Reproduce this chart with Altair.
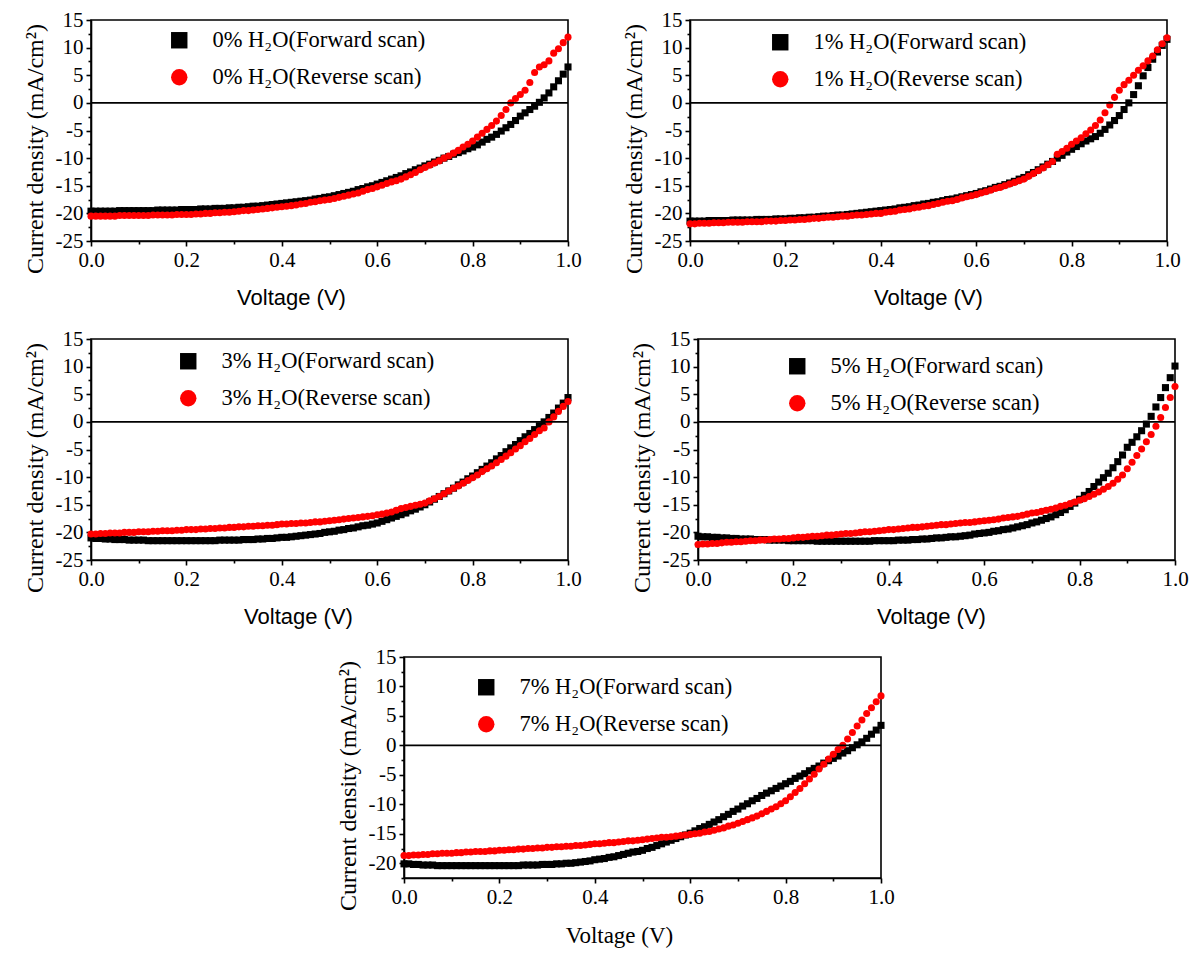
import altair as alt
import pandas as pd

V = [0.00, 0.01, 0.02, 0.03, 0.04, 0.05, 0.06, 0.07, 0.08, 0.09,
     0.10, 0.11, 0.12, 0.13, 0.14, 0.15, 0.16, 0.17, 0.18, 0.19,
     0.20, 0.21, 0.22, 0.23, 0.24, 0.25, 0.26, 0.27, 0.28, 0.29,
     0.30, 0.31, 0.32, 0.33, 0.34, 0.35, 0.36, 0.37, 0.38, 0.39,
     0.40, 0.41, 0.42, 0.43, 0.44, 0.45, 0.46, 0.47, 0.48, 0.49,
     0.50, 0.51, 0.52, 0.53, 0.54, 0.55, 0.56, 0.57, 0.58, 0.59,
     0.60, 0.61, 0.62, 0.63, 0.64, 0.65, 0.66, 0.67, 0.68, 0.69,
     0.70, 0.71, 0.72, 0.73, 0.74, 0.75, 0.76, 0.77, 0.78, 0.79,
     0.80, 0.81, 0.82, 0.83, 0.84, 0.85, 0.86, 0.87, 0.88, 0.89,
     0.90, 0.91, 0.92, 0.93, 0.94, 0.95, 0.96, 0.97, 0.98, 0.99,
     1.00]

# 0% H2O
F0 = [-19.6, -19.6, -19.6, -19.6, -19.6, -19.6, -19.5, -19.5, -19.5, -19.5,
      -19.5, -19.5, -19.5, -19.5, -19.4, -19.4, -19.4, -19.4, -19.4, -19.3,
      -19.3, -19.3, -19.3, -19.2, -19.2, -19.2, -19.1, -19.1, -19.1, -19.0,
      -19.0, -18.9, -18.9, -18.8, -18.7, -18.7, -18.6, -18.5, -18.4, -18.3,
      -18.2, -18.1, -18.0, -17.9, -17.8, -17.7, -17.6, -17.4, -17.3, -17.1,
      -17.0, -16.8, -16.6, -16.4, -16.2, -16.0, -15.7, -15.5, -15.2, -15.0,
      -14.7, -14.4, -14.1, -13.8, -13.5, -13.2, -12.8, -12.5, -12.1, -11.8,
      -11.4, -11.1, -10.7, -10.4, -10.0, -9.7, -9.3, -9.0, -8.7, -8.3,
      -8.0, -7.6, -7.1, -6.6, -6.2, -5.7, -5.1, -4.5, -3.9, -3.2,
      -2.4, -1.8, -1.2, -0.6, 0.1, 0.9, 1.8, 2.9, 4.0, 5.2,
      6.5]
R0 = [-20.5, -20.5, -20.5, -20.5, -20.5, -20.5, -20.4, -20.4, -20.4, -20.4,
      -20.4, -20.4, -20.4, -20.3, -20.3, -20.3, -20.3, -20.3, -20.2, -20.2,
      -20.2, -20.2, -20.1, -20.1, -20.0, -20.0, -19.9, -19.9, -19.8, -19.8,
      -19.7, -19.6, -19.5, -19.5, -19.4, -19.3, -19.2, -19.1, -19.0, -18.9,
      -18.8, -18.7, -18.6, -18.5, -18.3, -18.2, -18.0, -17.9, -17.7, -17.6,
      -17.5, -17.3, -17.1, -16.9, -16.7, -16.5, -16.3, -16.0, -15.7, -15.5,
      -15.2, -14.9, -14.6, -14.3, -14.1, -13.8, -13.4, -13.0, -12.6, -12.1,
      -11.7, -11.3, -10.9, -10.5, -10.0, -9.6, -9.1, -8.6, -8.0, -7.5,
      -6.9, -6.2, -5.5, -4.8, -4.1, -3.3, -2.3, -1.2, 0.0, 0.8,
      1.5, 2.3, 3.7, 5.5, 6.5, 6.9, 7.6, 9.0, 9.8, 10.9,
      11.9]

# 1% H2O
F1 = [-21.4, -21.4, -21.4, -21.4, -21.3, -21.3, -21.3, -21.3, -21.3, -21.2,
      -21.2, -21.2, -21.2, -21.2, -21.1, -21.1, -21.1, -21.1, -21.0, -21.0,
      -21.0, -20.9, -20.9, -20.8, -20.8, -20.7, -20.7, -20.6, -20.5, -20.5,
      -20.4, -20.3, -20.3, -20.2, -20.1, -20.0, -19.9, -19.8, -19.7, -19.6,
      -19.5, -19.4, -19.3, -19.2, -19.0, -18.9, -18.8, -18.6, -18.5, -18.3,
      -18.2, -18.0, -17.9, -17.7, -17.5, -17.4, -17.2, -17.0, -16.8, -16.6,
      -16.4, -16.1, -15.9, -15.6, -15.3, -15.1, -14.8, -14.5, -14.2, -13.8,
      -13.5, -13.0, -12.6, -12.1, -11.6, -11.1, -10.6, -10.0, -9.5, -8.9,
      -8.4, -7.9, -7.4, -6.9, -6.5, -6.1, -5.5, -4.8, -4.0, -3.2,
      -2.3, -1.2, 0.0, 1.5, 3.1, 4.9, 6.4, 7.9, 9.2, 10.4,
      11.5]
R1 = [-21.9, -21.9, -21.8, -21.8, -21.8, -21.7, -21.7, -21.7, -21.6, -21.6,
      -21.6, -21.6, -21.5, -21.5, -21.5, -21.5, -21.4, -21.4, -21.4, -21.3,
      -21.3, -21.2, -21.2, -21.1, -21.1, -21.0, -20.9, -20.9, -20.8, -20.7,
      -20.7, -20.6, -20.5, -20.5, -20.4, -20.3, -20.3, -20.2, -20.1, -20.0,
      -20.0, -19.8, -19.7, -19.6, -19.4, -19.3, -19.2, -19.0, -18.9, -18.7,
      -18.6, -18.4, -18.2, -18.0, -17.8, -17.7, -17.5, -17.2, -17.0, -16.8,
      -16.6, -16.3, -16.1, -15.8, -15.5, -15.3, -15.0, -14.7, -14.4, -14.1,
      -13.8, -13.3, -12.8, -12.3, -11.8, -11.2, -10.6, -9.3, -8.8, -8.2,
      -7.5, -6.9, -6.3, -5.6, -4.9, -4.1, -3.1, -1.8, -0.4, 1.0,
      2.3, 3.3, 4.1, 5.0, 5.9, 6.7, 7.6, 8.5, 9.6, 10.7,
      11.8]

# 3% H2O
F3 = [-21.0, -21.1, -21.1, -21.2, -21.2, -21.3, -21.3, -21.3, -21.4, -21.4,
      -21.4, -21.4, -21.5, -21.5, -21.5, -21.5, -21.5, -21.5, -21.5, -21.5,
      -21.5, -21.5, -21.5, -21.5, -21.5, -21.5, -21.5, -21.4, -21.4, -21.4,
      -21.4, -21.4, -21.3, -21.3, -21.3, -21.2, -21.2, -21.1, -21.1, -21.0,
      -20.9, -20.9, -20.8, -20.7, -20.6, -20.5, -20.4, -20.3, -20.2, -20.0,
      -19.9, -19.8, -19.6, -19.5, -19.3, -19.2, -19.0, -18.8, -18.7, -18.5,
      -18.3, -18.0, -17.7, -17.4, -17.1, -16.8, -16.5, -16.1, -15.8, -15.4,
      -15.0, -14.5, -14.0, -13.5, -13.0, -12.5, -12.0, -11.4, -10.9, -10.3,
      -9.8, -9.2, -8.6, -8.0, -7.4, -6.7, -6.1, -5.4, -4.7, -4.1,
      -3.4, -2.7, -2.1, -1.4, -0.7, 0.0, 0.8, 1.6, 2.5, 3.4,
      4.4]
R3 = [-20.3, -20.3, -20.2, -20.2, -20.1, -20.1, -20.1, -20.0, -20.0, -20.0,
      -19.9, -19.9, -19.9, -19.8, -19.8, -19.7, -19.7, -19.7, -19.6, -19.6,
      -19.5, -19.5, -19.5, -19.4, -19.4, -19.3, -19.3, -19.2, -19.2, -19.1,
      -19.1, -19.0, -19.0, -18.9, -18.9, -18.8, -18.8, -18.7, -18.7, -18.6,
      -18.5, -18.5, -18.4, -18.4, -18.3, -18.3, -18.2, -18.1, -18.1, -18.0,
      -17.9, -17.8, -17.7, -17.6, -17.5, -17.4, -17.3, -17.2, -17.1, -17.0,
      -16.8, -16.7, -16.5, -16.3, -16.0, -15.7, -15.5, -15.3, -15.1, -14.9,
      -14.7, -14.3, -13.9, -13.5, -13.0, -12.5, -12.0, -11.6, -11.1, -10.6,
      -10.1, -9.6, -9.0, -8.5, -8.0, -7.4, -6.8, -6.2, -5.6, -4.9,
      -4.3, -3.6, -3.0, -2.3, -1.6, -1.1, 0.0, 0.9, 1.9, 2.8,
      3.7]

# 5% H2O
F5 = [-20.7, -20.8, -20.8, -20.9, -20.9, -21.0, -21.0, -21.1, -21.1, -21.2,
      -21.2, -21.2, -21.3, -21.3, -21.3, -21.4, -21.4, -21.4, -21.4, -21.5,
      -21.5, -21.5, -21.5, -21.5, -21.5, -21.6, -21.6, -21.6, -21.6, -21.6,
      -21.6, -21.6, -21.6, -21.6, -21.6, -21.6, -21.6, -21.5, -21.5, -21.5,
      -21.5, -21.5, -21.4, -21.4, -21.4, -21.3, -21.3, -21.2, -21.2, -21.1,
      -21.0, -21.0, -20.9, -20.8, -20.8, -20.7, -20.6, -20.5, -20.3, -20.2,
      -20.1, -20.0, -19.8, -19.7, -19.5, -19.4, -19.2, -19.0, -18.8, -18.6,
      -18.3, -18.1, -17.8, -17.5, -17.2, -16.8, -16.4, -15.9, -15.3, -14.7,
      -14.0, -13.3, -12.6, -11.7, -10.9, -10.1, -9.3, -8.3, -7.2, -6.0,
      -4.6, -3.7, -2.7, -1.6, -0.4, 1.0, 2.7, 4.4, 6.2, 8.0,
      10.1]
R5 = [-22.2, -22.1, -22.1, -22.0, -22.0, -21.9, -21.8, -21.8, -21.7, -21.7,
      -21.6, -21.5, -21.5, -21.4, -21.4, -21.3, -21.2, -21.2, -21.1, -21.1,
      -21.0, -20.9, -20.9, -20.8, -20.7, -20.7, -20.6, -20.5, -20.5, -20.4,
      -20.3, -20.2, -20.2, -20.1, -20.0, -19.9, -19.9, -19.8, -19.7, -19.6,
      -19.5, -19.5, -19.4, -19.3, -19.2, -19.1, -19.1, -19.0, -18.9, -18.8,
      -18.7, -18.6, -18.6, -18.5, -18.4, -18.3, -18.2, -18.2, -18.1, -18.0,
      -17.9, -17.8, -17.7, -17.6, -17.4, -17.3, -17.2, -17.1, -16.9, -16.7,
      -16.5, -16.4, -16.2, -16.0, -15.8, -15.6, -15.3, -15.1, -14.8, -14.5,
      -14.2, -13.9, -13.5, -13.1, -12.7, -12.2, -11.7, -11.1, -10.4, -9.6,
      -8.5, -7.3, -6.1, -4.9, -3.6, -2.3, -0.8, 0.8, 2.6, 4.4,
      6.4]

# 7% H2O
F7 = [-20.1, -20.1, -20.2, -20.2, -20.3, -20.3, -20.3, -20.4, -20.4, -20.4,
      -20.4, -20.4, -20.4, -20.4, -20.4, -20.4, -20.4, -20.4, -20.4, -20.4,
      -20.4, -20.4, -20.4, -20.4, -20.4, -20.3, -20.3, -20.3, -20.3, -20.2,
      -20.2, -20.2, -20.1, -20.1, -20.0, -20.0, -19.9, -19.8, -19.7, -19.6,
      -19.4, -19.3, -19.2, -19.0, -18.9, -18.7, -18.5, -18.3, -18.1, -18.0,
      -17.8, -17.5, -17.3, -17.0, -16.7, -16.4, -16.1, -15.8, -15.5, -15.2,
      -14.9, -14.5, -14.1, -13.8, -13.4, -13.0, -12.6, -12.1, -11.7, -11.2,
      -10.8, -10.3, -9.9, -9.4, -9.0, -8.5, -8.1, -7.7, -7.3, -6.9,
      -6.5, -6.1, -5.6, -5.2, -4.8, -4.3, -3.9, -3.5, -3.0, -2.6,
      -2.2, -1.8, -1.3, -0.9, -0.4, 0.1, 0.6, 1.2, 1.9, 2.6,
      3.4]
R7 = [-18.7, -18.7, -18.6, -18.6, -18.5, -18.5, -18.4, -18.4, -18.3, -18.3,
      -18.3, -18.2, -18.2, -18.1, -18.1, -18.0, -18.0, -18.0, -17.9, -17.9,
      -17.8, -17.8, -17.7, -17.7, -17.6, -17.6, -17.5, -17.5, -17.4, -17.4,
      -17.3, -17.3, -17.2, -17.2, -17.1, -17.1, -17.0, -17.0, -16.9, -16.8,
      -16.7, -16.7, -16.6, -16.5, -16.5, -16.4, -16.3, -16.2, -16.2, -16.1,
      -16.0, -15.9, -15.8, -15.7, -15.6, -15.6, -15.5, -15.4, -15.3, -15.2,
      -15.1, -15.0, -14.9, -14.7, -14.6, -14.4, -14.2, -14.0, -13.7, -13.5,
      -13.2, -12.9, -12.6, -12.3, -12.0, -11.6, -11.2, -10.8, -10.4, -9.9,
      -9.4, -8.7, -8.0, -7.3, -6.5, -5.7, -4.9, -4.0, -3.2, -2.3,
      -1.5, -0.7, 0.0, 1.1, 2.2, 3.3, 4.3, 5.4, 6.4, 7.4,
      8.4]

Y_TICKS_FULL = [-25, -22.5, -20, -17.5, -15, -12.5, -10, -7.5, -5, -2.5, 0,
                2.5, 5, 7.5, 10, 12.5, 15]
Y_TICKS_P5 = [-22.5, -20, -17.5, -15, -12.5, -10, -7.5, -5, -2.5, 0,
              2.5, 5, 7.5, 10, 12.5, 15]
X_TICKS = [0.0, 0.1, 0.2, 0.3, 0.4, 0.5, 0.6, 0.7, 0.8, 0.9, 1.0]

SERIF = "Liberation Serif"
SANS = "Liberation Sans"
PH = 221
PW = 477
AX = dict(labelFont=SERIF, labelFontSize=21, labelColor="black",
          labelFlush=False, labelOverlap=False,
          tickColor="black", domainColor="black", domainWidth=1.6,
          tickWidth=1.6, grid=False, titleColor="black",
          titleFontWeight="normal")


def panel(pct, fwd, rev, ydom, yticks, xfont, xfontsize, xtitle_x, lx, ly):
    fname = f"{pct}% H\u2082O(Forward scan)"
    rname = f"{pct}% H\u2082O(Reverse scan)"
    df = pd.DataFrame({
        "V": V + V,
        "J": fwd + rev,
        "series": [fname] * len(V) + [rname] * len(V),
    })
    leg = alt.Legend(
        title=None, orient="none", legendX=lx, legendY=ly,
        symbolSize=270, symbolStrokeWidth=0, labelFont=SERIF,
        labelFontSize=22.5, labelColor="black", labelOffset=22,
        rowPadding=14, padding=0, labelLimit=400,
    )
    yaxis = alt.Axis(
        values=yticks,
        labelExpr="abs(datum.value % 5) < 0.01 ? replace(datum.label, '\u2212', '-') : ''",
        tickSize={"condition": {"test": "abs(datum.value % 5) < 0.01", "value": 5}, "value": 3},
        labelPadding=3,
        title="Current density (mA/cm\u00b2)", titleFont=SERIF,
        titleFontSize=24, titlePadding=8, titleY=PH / 2 + 18,
        **AX,
    )
    yscale = alt.Scale(domain=ydom, nice=False, zero=False)
    pts = alt.Chart(df).mark_point(filled=True, size=50, opacity=1,
                                   strokeWidth=0).encode(
        x=alt.X("V:Q",
                scale=alt.Scale(domain=[0, 1], nice=False, zero=False),
                axis=alt.Axis(
                    values=X_TICKS,
                    labelExpr="abs(round(datum.value*10)) % 2 == 0 ? format(datum.value, '.1f') : ''",
                    tickSize={"condition": {"test": "abs(round(datum.value*10)) % 2 == 0", "value": 5}, "value": 3},
                    labelPadding=3,
                    title="Voltage (V)", titleFont=xfont,
                    titleFontSize=xfontsize, titlePadding=17,
                    titleX=xtitle_x,
                    **AX,
                )),
        y=alt.Y("J:Q", scale=yscale, axis=yaxis),
        color=alt.Color("series:N",
                        scale=alt.Scale(domain=[fname, rname],
                                        range=["black", "#ff0000"]),
                        legend=leg),
        shape=alt.Shape("series:N",
                        scale=alt.Scale(domain=[fname, rname],
                                        range=["square", "circle"]),
                        legend=leg),
    )
    zero = alt.Chart(pd.DataFrame({"J": [0]})).mark_rule(
        color="black", strokeWidth=1.6).encode(
        y=alt.Y("J:Q", scale=yscale, axis=yaxis))
    return alt.layer(pts, zero).properties(width=PW, height=PH)


p0 = panel("0", F0, R0, [-25, 15], Y_TICKS_FULL, SANS, 22, 200, 77, 9)
p1 = panel("1", F1, R1, [-25, 15], Y_TICKS_FULL, SANS, 22, 238, 79, 11)
p3 = panel("3", F3, R3, [-25, 15], Y_TICKS_FULL, SANS, 22, 207, 86, 11)
p5 = panel("5", F5, R5, [-25, 15], Y_TICKS_FULL, SANS, 22, 233, 88, 16)
p7 = panel("7", F7, R7, [-22.5, 15], Y_TICKS_P5, SERIF, 23, 215, 71, 19)

spacer = alt.Chart(pd.DataFrame({"a": [0]})).mark_point(opacity=0, size=1).encode(
    x=alt.value(0), y=alt.value(0)
).properties(width=300, height=10, view=alt.ViewBackground(stroke="transparent"))

row1 = alt.hconcat(p0, p1, spacing=122, bounds="flush").resolve_scale(
    color="independent", shape="independent")
row2 = alt.hconcat(p3, p5, spacing=130, bounds="flush").resolve_scale(
    color="independent", shape="independent")
row3 = alt.hconcat(spacer, p7, spacing=13, bounds="flush").resolve_scale(
    color="independent", shape="independent")
top = alt.vconcat(row1, row2, spacing=18).resolve_scale(
    color="independent", shape="independent")
chart = alt.vconcat(top, row3, spacing=17).resolve_scale(
    color="independent", shape="independent"
).properties(
    padding={"left": 14, "top": 0, "right": 0, "bottom": 0}
).configure_view(
    stroke="black", strokeWidth=1.6
)

chart.save("out.html", embed_options={"renderer": "svg", "actions": False})
